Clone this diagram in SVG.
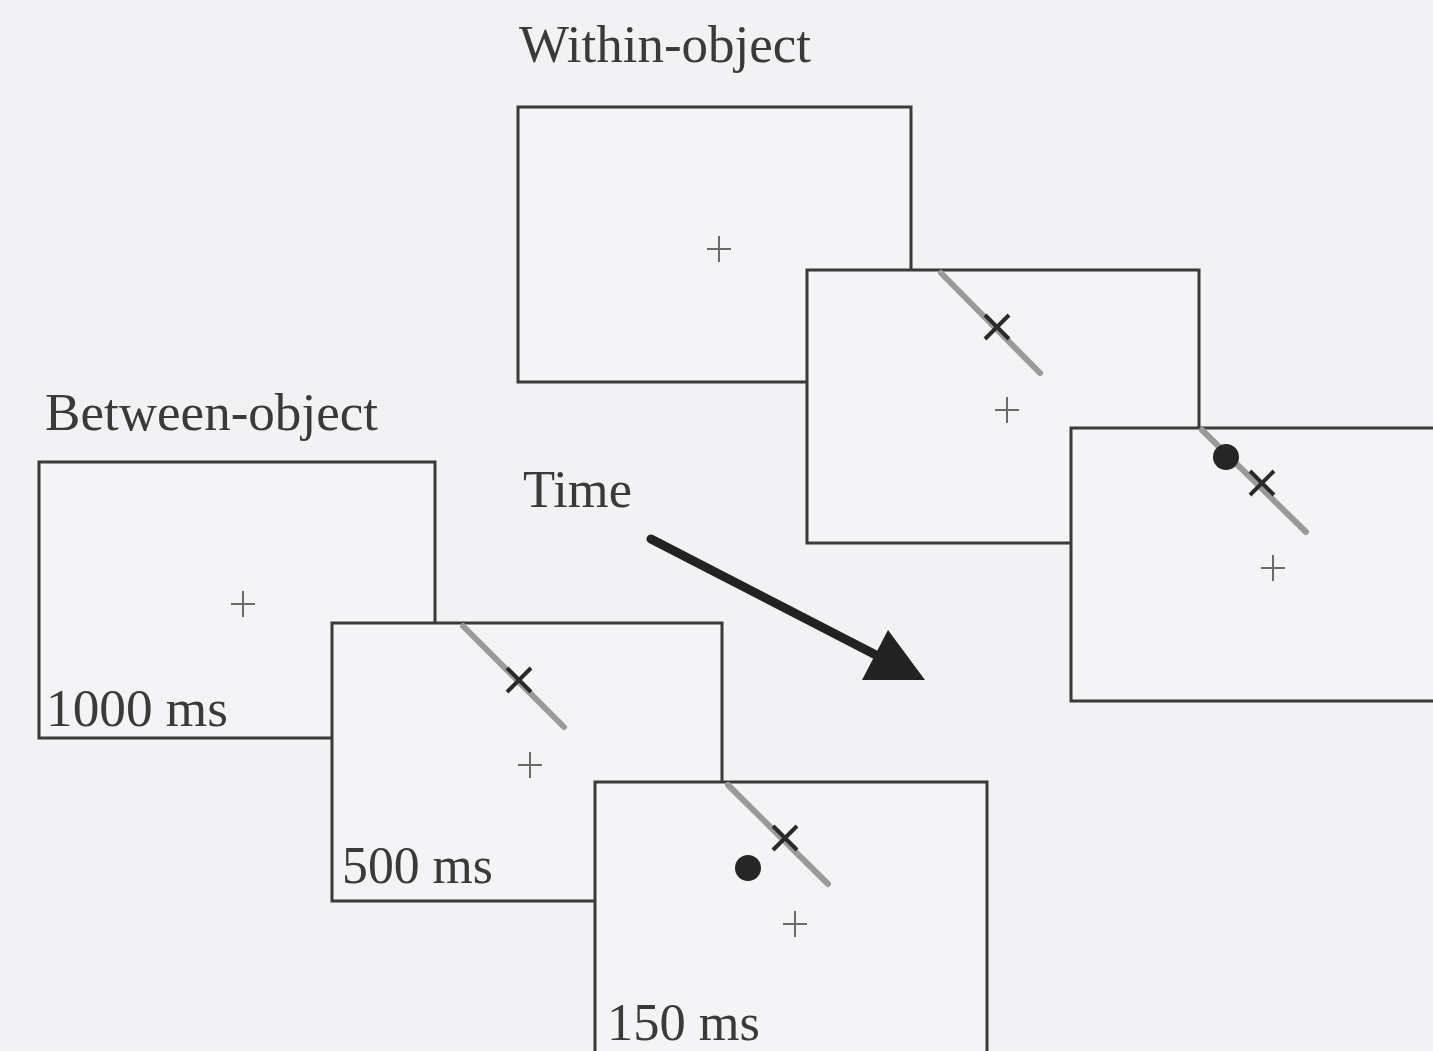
<svg xmlns="http://www.w3.org/2000/svg" width="1433" height="1051" viewBox="0 0 1433 1051">
  <style>
    .bg { fill: #f2f1f3; }
    .frame { fill: #f4f3f5; stroke: #3a3a3a; stroke-width: 3; }
    .bar { stroke: #9a9a9a; stroke-width: 6; stroke-linecap: round; fill: none; }
    .cue { stroke: #2a2a2a; stroke-width: 4; fill: none; }
    .fix { stroke: #6a6a6a; stroke-width: 2; fill: none; }
    .dot { fill: #262626; }
    .label { font-family: "Liberation Serif", "Times New Roman", serif; font-size: 52px; fill: #3a3a3a; }
  </style>
  <defs>
    <path id="xmark" class="cue" d="M -12 -12 L 12 12 M 12 -12 L -12 12"/>
    <path id="plus" class="fix" d="M -12 0 L 12 0 M 0 -13 L 0 13"/>
  </defs>

  <rect class="bg" x="0" y="0" width="1433" height="1051"/>

  <!-- headings -->
  <text class="label" x="519" y="62" textLength="292" lengthAdjust="spacingAndGlyphs">Within-object</text>
  <text class="label" x="45" y="430" textLength="333" lengthAdjust="spacingAndGlyphs">Between-object</text>

  <!-- Within-object sequence -->
  <g id="within-fixation">
    <rect class="frame" x="518" y="107" width="393" height="275"/>
    <use href="#plus" x="719" y="249"/>
  </g>
  <g id="within-cue">
    <rect class="frame" x="807" y="270" width="392" height="273"/>
    <line class="bar" x1="941" y1="273" x2="1040" y2="373"/>
    <use href="#xmark" x="997" y="327"/>
    <use href="#plus" x="1007" y="410"/>
  </g>
  <g id="within-target">
    <rect class="frame" x="1071" y="428" width="380" height="273"/>
    <line class="bar" x1="1202" y1="430" x2="1306" y2="532"/>
    <circle class="dot" cx="1226" cy="457" r="13"/>
    <use href="#xmark" x="1262" y="483"/>
    <use href="#plus" x="1273" y="568"/>
  </g>

  <!-- Between-object sequence -->
  <g id="between-fixation">
    <rect class="frame" x="39" y="462" width="396" height="276"/>
    <use href="#plus" x="243" y="604"/>
    <text class="label" x="46" y="726" textLength="182" lengthAdjust="spacingAndGlyphs">1000 ms</text>
  </g>
  <g id="between-cue">
    <rect class="frame" x="332" y="623" width="390" height="278"/>
    <line class="bar" x1="463" y1="626" x2="564" y2="727"/>
    <use href="#xmark" x="519" y="680"/>
    <use href="#plus" x="530" y="765"/>
    <text class="label" x="342" y="883" textLength="151" lengthAdjust="spacingAndGlyphs">500 ms</text>
  </g>
  <g id="between-target">
    <rect class="frame" x="595" y="782" width="392" height="290"/>
    <line class="bar" x1="728" y1="785" x2="828" y2="884"/>
    <circle class="dot" cx="748" cy="868" r="13"/>
    <use href="#xmark" x="785" y="838"/>
    <use href="#plus" x="795" y="924"/>
    <text class="label" x="607" y="1040" textLength="153" lengthAdjust="spacingAndGlyphs">150 ms</text>
  </g>

  <!-- time arrow -->
  <g id="connectors">
    <text class="label" x="523" y="507" textLength="109" lengthAdjust="spacingAndGlyphs">Time</text>
    <line x1="651" y1="539" x2="874" y2="654" stroke="#222" stroke-width="9" stroke-linecap="round"/>
    <polygon points="888,630 925,680 862,680" fill="#222"/>
  </g>
</svg>
